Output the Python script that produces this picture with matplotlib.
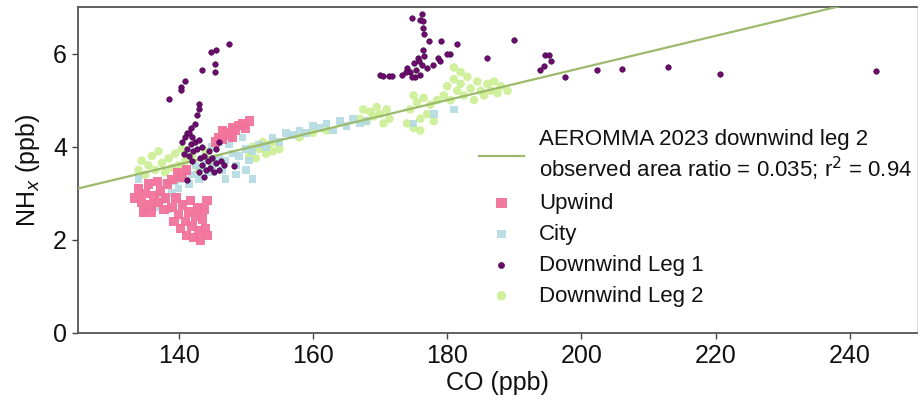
import matplotlib
matplotlib.use("Agg")
import matplotlib.pyplot as plt
import numpy as np

plt.rcParams['font.family'] = ['Liberation Sans', 'DejaVu Sans']

# ---------------- data ----------------
upwind_co = [133.5, 134, 134.5, 134.8, 135, 135.5, 135.8, 136, 136.3, 136.8, 137, 137.3, 137.8, 138, 138.3,
             139, 139.3, 139.6, 140, 140.3, 140.6, 141, 141.2, 141.5, 141.8, 142, 142.2, 142.5, 142.8, 143,
             143.2, 143.5, 143.8, 144, 144.3, 144.2,
             139, 139.8, 140.5, 141.2,
             145.5, 146, 146.5, 147, 147.5, 148, 148.5, 149, 149.5, 150, 150.5, 146.5, 148]
upwind_nh = [2.9, 3.1, 2.8, 2.6, 3.0, 3.2, 2.75, 2.6, 2.95, 3.25, 2.8, 3.05, 2.65, 2.9, 3.2,
             2.7, 2.4, 2.9, 2.55, 2.25, 2.75, 2.4, 2.1, 2.6, 2.85, 2.3, 2.05, 2.5, 2.7, 2.2,
             2.0, 2.45, 2.65, 2.25, 2.1, 2.85,
             3.3, 3.45, 3.35, 3.5,
             4.1, 4.2, 4.15, 4.3, 4.25, 4.4, 4.35, 4.45, 4.5, 4.4, 4.55, 4.35, 4.2]

city_co = [134, 135, 136.5, 137, 137.5, 138, 138.5, 139, 139.5, 140, 140.5, 141, 141.5, 142, 142.5, 143,
           143.5, 144, 144.5, 145, 146, 146.5, 147, 148, 148.5, 149, 150, 150.5, 151, 152, 153, 154,
           155, 156, 157, 158, 159, 160, 161, 162, 163, 164, 165, 166, 167, 168,
           145, 146, 147.5, 149.5, 147, 148.5, 150, 151, 175, 178, 181]
city_nh = [3.3, 2.6, 2.7, 3.0, 2.85, 3.2, 2.65, 3.0, 3.25, 3.1, 3.3, 3.5, 3.2, 3.4, 3.6, 3.3,
           3.55, 3.7, 3.45, 3.6, 3.75, 3.5, 3.7, 3.85, 3.6, 3.8, 3.95, 3.7, 3.9, 4.05, 4.0, 4.2,
           4.1, 4.3, 4.25, 4.35, 4.3, 4.45, 4.4, 4.5, 4.35, 4.55, 4.45, 4.6, 4.5, 4.55,
           4.0, 4.1, 4.05, 4.2, 3.3, 3.4, 3.5, 3.3, 4.5, 4.7, 4.8]

leg1_co = [147.5, 145.5, 144.8, 145.4, 145.4, 143.4, 140.9, 140.3, 140.3, 138.5, 143.1, 143.0, 142.7,
           142.5, 141.9, 141.2,
           140.5, 141, 141.2, 141.5, 141.8, 142, 142.2, 142.5, 142.8, 143, 140.8, 141.5, 142,
           143.2, 143.5, 143.8, 144, 144.3, 144.6, 145, 145.3, 145.6, 146, 146.3, 146.8, 144.5, 145.5,
           146, 143.5, 143, 141.2, 148.2, 143.8,
           176.2, 174.7, 175.9, 176.4, 176.4, 176.5, 177.3, 179.1, 181.5, 176.4, 180.4, 180, 178.6,
           178.9, 177.9, 186, 189.9, 170, 170.4, 171.4, 171.8, 173.2, 175.2,
           174, 174.5, 175, 175.3, 175.6, 176, 176.3, 176.6, 177, 174.8, 175.8, 173.8,
           194.6, 195.1, 195.4, 194.5, 193.9, 197.6, 202.3, 206, 212.9, 220.7, 243.9]
leg1_nh = [6.2, 6.08, 6.04, 5.78, 5.6, 5.65, 5.4, 5.28, 5.22, 5.02, 4.91, 4.8, 4.67,
           4.48, 4.41, 4.3,
           4.1, 4.2, 3.95, 4.3, 4.05, 4.2, 3.9, 4.1, 3.95, 4.15, 3.85, 3.8, 3.7,
           3.75, 3.6, 3.8, 3.5, 3.7, 3.55, 3.75, 3.45, 3.65, 3.5, 3.7, 3.6, 3.9, 3.95,
           4.1, 4.0, 3.45, 3.28, 3.59, 3.35,
           6.85, 6.76, 6.72, 6.7, 6.54, 6.43, 6.28, 6.28, 6.2, 6.08, 6.0, 5.98, 5.9,
           5.85, 5.76, 5.91, 6.3, 5.54, 5.52, 5.52, 5.52, 5.54, 5.5,
           5.7, 5.6, 5.8, 5.65, 5.9, 5.55, 5.75, 5.95, 5.7, 5.5, 5.85, 5.6,
           5.96, 5.96, 5.85, 5.74, 5.65, 5.5, 5.65, 5.66, 5.72, 5.57, 5.62]

leg2_co = [134, 134.5, 135, 135.5, 136, 136.5, 137, 137.5, 138, 138.5, 139, 139.5, 140, 140.5, 141,
           142, 143, 144, 145,
           150.5, 151, 151.5, 152, 152.5, 153, 153.5, 154, 154.5, 155, 158, 160, 162,
           167, 167.5, 168, 168.5, 169, 169.5, 170, 170.5, 171, 171.4,
           174, 174.5, 175, 175.5, 176, 176.5, 177, 177.5, 178, 178.5, 176, 175,
           179.5, 180, 180.5, 181, 181.5, 182, 182.5, 183, 183.5, 184, 184.5, 185,
           185.5, 186, 186.5, 187, 187.5, 188, 189, 181, 182]
leg2_nh = [3.5, 3.7, 3.4, 3.6, 3.8, 3.5, 3.9, 3.65, 3.45, 3.75, 3.55, 3.85, 3.6, 3.95, 3.7,
           3.8, 3.5, 3.9, 3.6,
           3.8, 4.0, 3.75, 3.95, 4.1, 3.85, 4.05, 3.9, 4.1, 3.95, 4.2, 4.3, 4.35,
           4.6, 4.8, 4.55, 4.75, 4.65, 4.85, 4.7, 4.5, 4.8, 4.6,
           4.5, 4.8, 4.4, 4.95, 4.6, 5.05, 4.7, 4.9, 4.55, 5.0, 4.35, 5.1,
           5.1, 5.3, 5.0, 5.45, 5.2, 5.35, 5.1, 5.5, 5.25, 5.0, 5.4, 5.2,
           5.1, 5.35, 5.2, 5.4, 5.15, 5.3, 5.2, 5.7, 5.6]

fit_slope = 0.0345
fit_intercept = -1.21
fit_label = "AEROMMA 2023 downwind leg 2\nobserved area ratio = 0.035; r$^2$ = 0.94"

x_ticks = [140, 160, 180, 200, 220, 240]
y_ticks = [0, 2, 4, 6]

# ---------------- plot ----------------
fig = plt.figure(figsize=(9.22, 4.03), dpi=100)
ax = fig.add_axes([0.0846, 0.1737, 0.91, 0.809])

c_up = '#f2729a'
c_city = '#b0d9e0'
c_l1 = '#6e0a70'
c_l2 = '#c8ee8c'
c_line = '#9cba6c'

ax.scatter(leg2_co, leg2_nh, s=38, marker='o', color=c_l2, edgecolors='none', alpha=0.85, zorder=2,
           label='Downwind Leg 2')
ax.scatter(city_co, city_nh, s=30, marker='s', color=c_city, edgecolors='none', alpha=0.85, zorder=2.2,
           label='City')
ax.scatter(upwind_co, upwind_nh, s=45, marker='s', color=c_up, edgecolors='none', alpha=0.95, zorder=2.4,
           label='Upwind')
xl = np.array([125, 250])
ax.plot(xl, fit_slope * xl + fit_intercept, color=c_line, lw=1.6, zorder=3, label=fit_label)
ax.scatter(leg1_co, leg1_nh, s=16, marker='o', color=c_l1, edgecolors='#3a0a40', linewidths=0.4,
           zorder=4, label='Downwind Leg 1')

ax.set_xlim(125, 250)
ax.set_ylim(0, 7)
ax.set_xticks(x_ticks)
ax.set_yticks(y_ticks)
ax.tick_params(labelsize=18, length=4, width=1, color='#444444', labelcolor='#111111', pad=4)
ax.set_xlabel('CO (ppb)', fontsize=18, labelpad=2, color='#111111')
ax.set_ylabel('NH$_x$ (ppb)', fontsize=18, labelpad=8, color='#111111')

for s in ['left', 'bottom', 'top']:
    ax.spines[s].set_color('#555555')
    ax.spines[s].set_linewidth(1.3)
ax.spines['right'].set_color('#dddddd')

h, l = ax.get_legend_handles_labels()
order = [l.index(fit_label), l.index('Upwind'), l.index('City'), l.index('Downwind Leg 1'),
         l.index('Downwind Leg 2')]
leg = ax.legend([h[i] for i in order], [l[i] for i in order], loc='upper left',
                bbox_to_anchor=(0.465, 0.66), frameon=False, fontsize=16, handlelength=2.0,
                handletextpad=0.7, labelspacing=0.45, borderpad=0, markerscale=1.1)
for t in leg.get_texts():
    t.set_color('#111111')

fig.savefig('out.png', dpi=100)
